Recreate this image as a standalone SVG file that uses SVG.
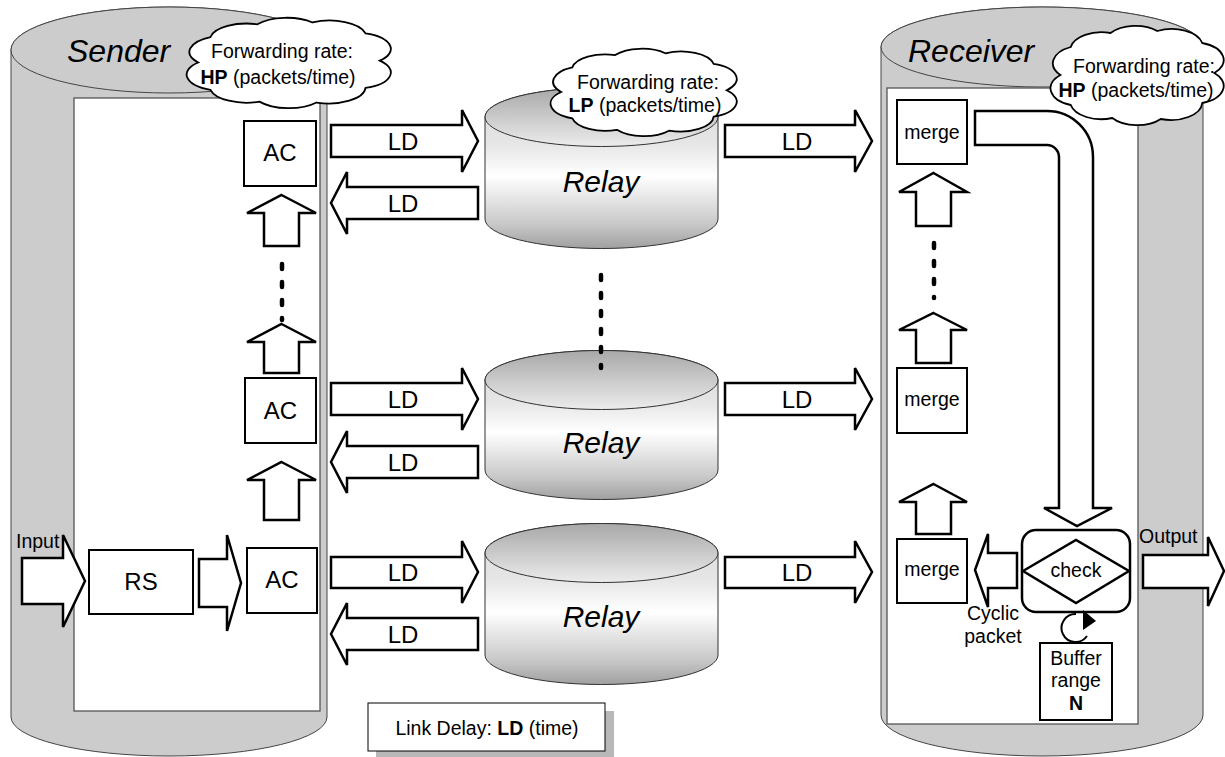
<svg xmlns="http://www.w3.org/2000/svg" xmlns:xlink="http://www.w3.org/1999/xlink" width="1225" height="757" viewBox="0 0 1225 757">
<style>
text{font-family:"Liberation Sans",Arial,sans-serif;fill:#000}
.cyl{fill:#cccccc;stroke:#444;stroke-width:1}
.inner{fill:#fff;stroke:#555;stroke-width:1.3}
.arrow{fill:#fff;stroke:#000;stroke-width:2.5;stroke-linejoin:miter}
.box{fill:#fff;stroke:#000;stroke-width:2}
.relaybody{fill:url(#gBody);stroke:#333;stroke-width:1}
.relaytop{fill:url(#gTop);stroke:#333;stroke-width:1}
.dots{stroke:#000;stroke-width:4.5;stroke-linecap:round;stroke-dasharray:5 13;fill:none}
.cloud{fill:#fff;stroke:#000;stroke-width:1.8}
.ital{font-style:italic}
.big{font-size:32px}
.rel{font-size:30px}
.t24{font-size:24px}
.t19{font-size:19.5px}
.b{font-weight:bold}
</style>
<defs>
<linearGradient id="gBody" x1="0" y1="0" x2="0" y2="1">
<stop offset="0" stop-color="#d8d8d8"/>
<stop offset="0.35" stop-color="#e6e6e6"/>
<stop offset="0.55" stop-color="#ffffff"/>
<stop offset="0.85" stop-color="#c8c8c8"/>
<stop offset="1" stop-color="#a0a0a0"/>
</linearGradient>
<linearGradient id="gTop" x1="0" y1="0" x2="0" y2="1">
<stop offset="0" stop-color="#a8a8a8"/>
<stop offset="1" stop-color="#ececec"/>
</linearGradient>
<path id="cloudShape" vector-effect="non-scaling-stroke" d="M6,50 A18,18 0 0 1 12,22 A18,18 0 0 1 35,8 A18,18 0 0 1 62,6 A18,18 0 0 1 88,18 A18,18 0 0 1 95,48 A18,18 0 0 1 88,78 A18,18 0 0 1 64,94 A18,18 0 0 1 36,93 A18,18 0 0 1 12,80 A18,18 0 0 1 6,50 Z"/>
</defs>
<rect width="1225" height="757" fill="#fff"/>

<!-- Sender -->
<g id="sender">
<path class="cyl" d="M11,50 A158,43 0 0 1 327,50 L327,717 A158,39 0 0 1 11,717 Z"/>
<ellipse class="cyl" cx="169" cy="50" rx="158" ry="43"/>
<rect class="inner" x="74" y="98" width="246" height="613"/>
<text class="ital big" x="67" y="62">Sender</text>
</g>
<g id="sender-cloud">
<use href="#cloudShape" class="cloud" transform="translate(186,17) scale(2.04,0.91)"/>
<text class="t19" x="282" y="58" text-anchor="middle">Forwarding rate:</text>
<text class="t19" x="278" y="84" text-anchor="middle"><tspan class="b">HP</tspan> (packets/time)</text>
</g>

<!-- Receiver -->
<g id="receiver">
<path class="cyl" d="M881,47 A161,40 0 0 1 1203,47 L1203,715 A161,41 0 0 1 881,715 Z"/>
<ellipse class="cyl" cx="1042" cy="47" rx="161" ry="40"/>
<rect class="inner" x="887" y="88" width="251" height="636"/>
<text class="ital big" x="908" y="62">Receiver</text>
</g>
<g id="receiver-cloud">
<use href="#cloudShape" class="cloud" transform="translate(1050,25) scale(1.73,1.0)"/>
<text class="t19" x="1144" y="73" text-anchor="middle">Forwarding rate:</text>
<text class="t19" x="1136" y="97" text-anchor="middle"><tspan class="b">HP</tspan> (packets/time)</text>
</g>

<!-- Relays -->
<g id="relay1">
<path class="relaybody" d="M485,117 A116.5,29.5 0 0 1 718,117 L718,219 A116.5,29.5 0 0 1 485,219 Z"/>
<ellipse class="relaytop" cx="601.5" cy="117" rx="116.5" ry="29.5"/>
<text class="ital rel" x="601" y="192" text-anchor="middle">Relay</text>
</g>
<g id="relay2">
<path class="relaybody" d="M485,380 A116.5,29.5 0 0 1 718,380 L718,470 A116.5,29.5 0 0 1 485,470 Z"/>
<ellipse class="relaytop" cx="601.5" cy="380" rx="116.5" ry="29.5"/>
<text class="ital rel" x="601" y="453" text-anchor="middle">Relay</text>
</g>
<g id="relay3">
<path class="relaybody" d="M485,553 A116.5,29.5 0 0 1 718,553 L718,655 A116.5,29.5 0 0 1 485,655 Z"/>
<ellipse class="relaytop" cx="601.5" cy="553" rx="116.5" ry="29.5"/>
<text class="ital rel" x="601" y="627" text-anchor="middle">Relay</text>
</g>
<g id="relay-cloud">
<use href="#cloudShape" class="cloud" transform="translate(550,48) scale(1.86,0.88)"/>
<text class="t19" x="648" y="89" text-anchor="middle">Forwarding rate:</text>
<text class="t19" x="645" y="112" text-anchor="middle"><tspan class="b">LP</tspan> (packets/time)</text>
</g>

<!-- Sender internal nodes -->
<g id="ac1"><rect class="box" x="244" y="121" width="72" height="65"/><text class="t24" x="280" y="161" text-anchor="middle">AC</text></g>
<g id="ac2"><rect class="box" x="245" y="378" width="71" height="65"/><text class="t24" x="280.5" y="419" text-anchor="middle">AC</text></g>
<g id="ac3"><rect class="box" x="247" y="548" width="70" height="65"/><text class="t24" x="282" y="588" text-anchor="middle">AC</text></g>
<g id="rs"><rect class="box" x="89" y="550" width="104" height="64"/><text class="t24" x="141" y="590" text-anchor="middle">RS</text></g>

<!-- Receiver internal nodes -->
<g id="merge1"><rect class="box" x="897" y="100" width="70" height="64"/><text class="t19" x="932" y="139" text-anchor="middle">merge</text></g>
<g id="merge2"><rect class="box" x="897" y="368" width="70" height="65"/><text class="t19" x="932" y="406" text-anchor="middle">merge</text></g>
<g id="merge3"><rect class="box" x="897" y="539" width="70" height="64"/><text class="t19" x="932" y="576" text-anchor="middle">merge</text></g>
<g id="check">
<rect class="box" x="1022" y="530" width="108" height="82" rx="14" ry="14" style="stroke-width:2.5"/>
<polygon class="box" points="1023,571 1076,540 1129,571 1076,603" style="stroke-width:2.5"/>
<text class="t19" x="1076" y="577" text-anchor="middle">check</text>
</g>
<g id="buffer">
<rect class="box" x="1040" y="643" width="72" height="77"/>
<text class="t19" x="1076" y="665" text-anchor="middle">Buffer</text>
<text class="t19" x="1076" y="687" text-anchor="middle">range</text>
<text class="t19 b" x="1076" y="710" text-anchor="middle">N</text>
</g>
<g id="legend">
<rect x="376" y="711" width="238" height="47" fill="#b8b8b8"/>
<rect x="368" y="703" width="237" height="48" fill="#fff" stroke="#000" stroke-width="1"/>
<text class="t19" x="487" y="735" text-anchor="middle">Link Delay: <tspan class="b">LD</tspan> (time)</text>
</g>

<!-- Connectors -->
<g id="connectors">
<polygon class="arrow" points="331,125 462,125 462,110 478,141 462,172 462,157 331,157"/>
<polygon class="arrow" points="478,187 347,187 347,172 331,203 347,234 347,219 478,219"/>
<polygon class="arrow" points="331,383 462,383 462,368 478,399 462,430 462,415 331,415"/>
<polygon class="arrow" points="478,446 347,446 347,431 331,462 347,493 347,478 478,478"/>
<polygon class="arrow" points="331,557 462,557 462,541 478,572 462,603 462,588 331,588"/>
<polygon class="arrow" points="478,618 347,618 347,603 331,634 347,665 347,650 478,650"/>
<polygon class="arrow" points="725,125 855,125 855,110 872,141 855,172 855,157 725,157"/>
<polygon class="arrow" points="725,383 855,383 855,368 872,399 855,430 855,415 725,415"/>
<polygon class="arrow" points="725,557 855,557 855,541 872,572 855,603 855,588 725,588"/>
<g class="t24" text-anchor="middle">
<text x="403" y="150">LD</text><text x="403" y="212">LD</text>
<text x="403" y="408">LD</text><text x="403" y="471">LD</text>
<text x="403" y="581">LD</text><text x="403" y="643">LD</text>
<text x="797" y="150">LD</text><text x="797" y="408">LD</text><text x="797" y="581">LD</text>
</g>
<polygon class="arrow" points="22,558 63,558 63,535 85,581 63,627 63,604 22,604"/>
<text class="t19" x="16" y="548">Input</text>
<polygon class="arrow" points="199,559 227,559 227,535 241,583 227,631 227,607 199,607"/>
<polygon class="arrow" points="281.5,195 316,213 299,213 299,246 264,246 264,213 247,213"/>
<polygon class="arrow" points="281.5,324 316,342 299,342 299,373 264,373 264,342 247,342"/>
<polygon class="arrow" points="281.5,462 316,480 299,480 299,520 264,520 264,480 247,480"/>
<line class="dots" x1="282" y1="264" x2="282" y2="320"/>
<line class="dots" x1="601" y1="275" x2="601" y2="368"/>
<polygon class="arrow" points="933.5,173 967,192 951,192 951,226 916,226 916,192 899,192"/>
<polygon class="arrow" points="933.5,313 967,330 951,330 951,363 916,363 916,330 899,330"/>
<polygon class="arrow" points="933.5,484 967,502 951,502 951,534 916,534 916,502 899,502"/>
<line class="dots" x1="934" y1="243" x2="934" y2="298"/>
<path class="arrow" d="M975,111 L1047,111 A46,46 0 0 1 1093,157 L1093,508 L1112,508 L1077,526 L1044,508 L1059,508 L1059,157 A12,12 0 0 0 1047,145 L975,145 Z"/>
<polygon class="arrow" points="1017,553 988,553 988,534 975,570 988,607 988,588 1017,588"/>
<text class="t19" x="993" y="620" text-anchor="middle">Cyclic</text>
<text class="t19" x="993" y="643" text-anchor="middle">packet</text>
<polygon class="arrow" points="1143,555 1208,555 1208,537 1224,571 1208,606 1208,588 1143,588"/>
<text class="t19" x="1139" y="543">Output</text>
<path d="M1087,636 A14,14 0 1 1 1076,614" fill="none" stroke="#000" stroke-width="2"/>
<polygon points="1083,610 1096,621 1083,630" fill="#000"/>
</g>
</svg>
